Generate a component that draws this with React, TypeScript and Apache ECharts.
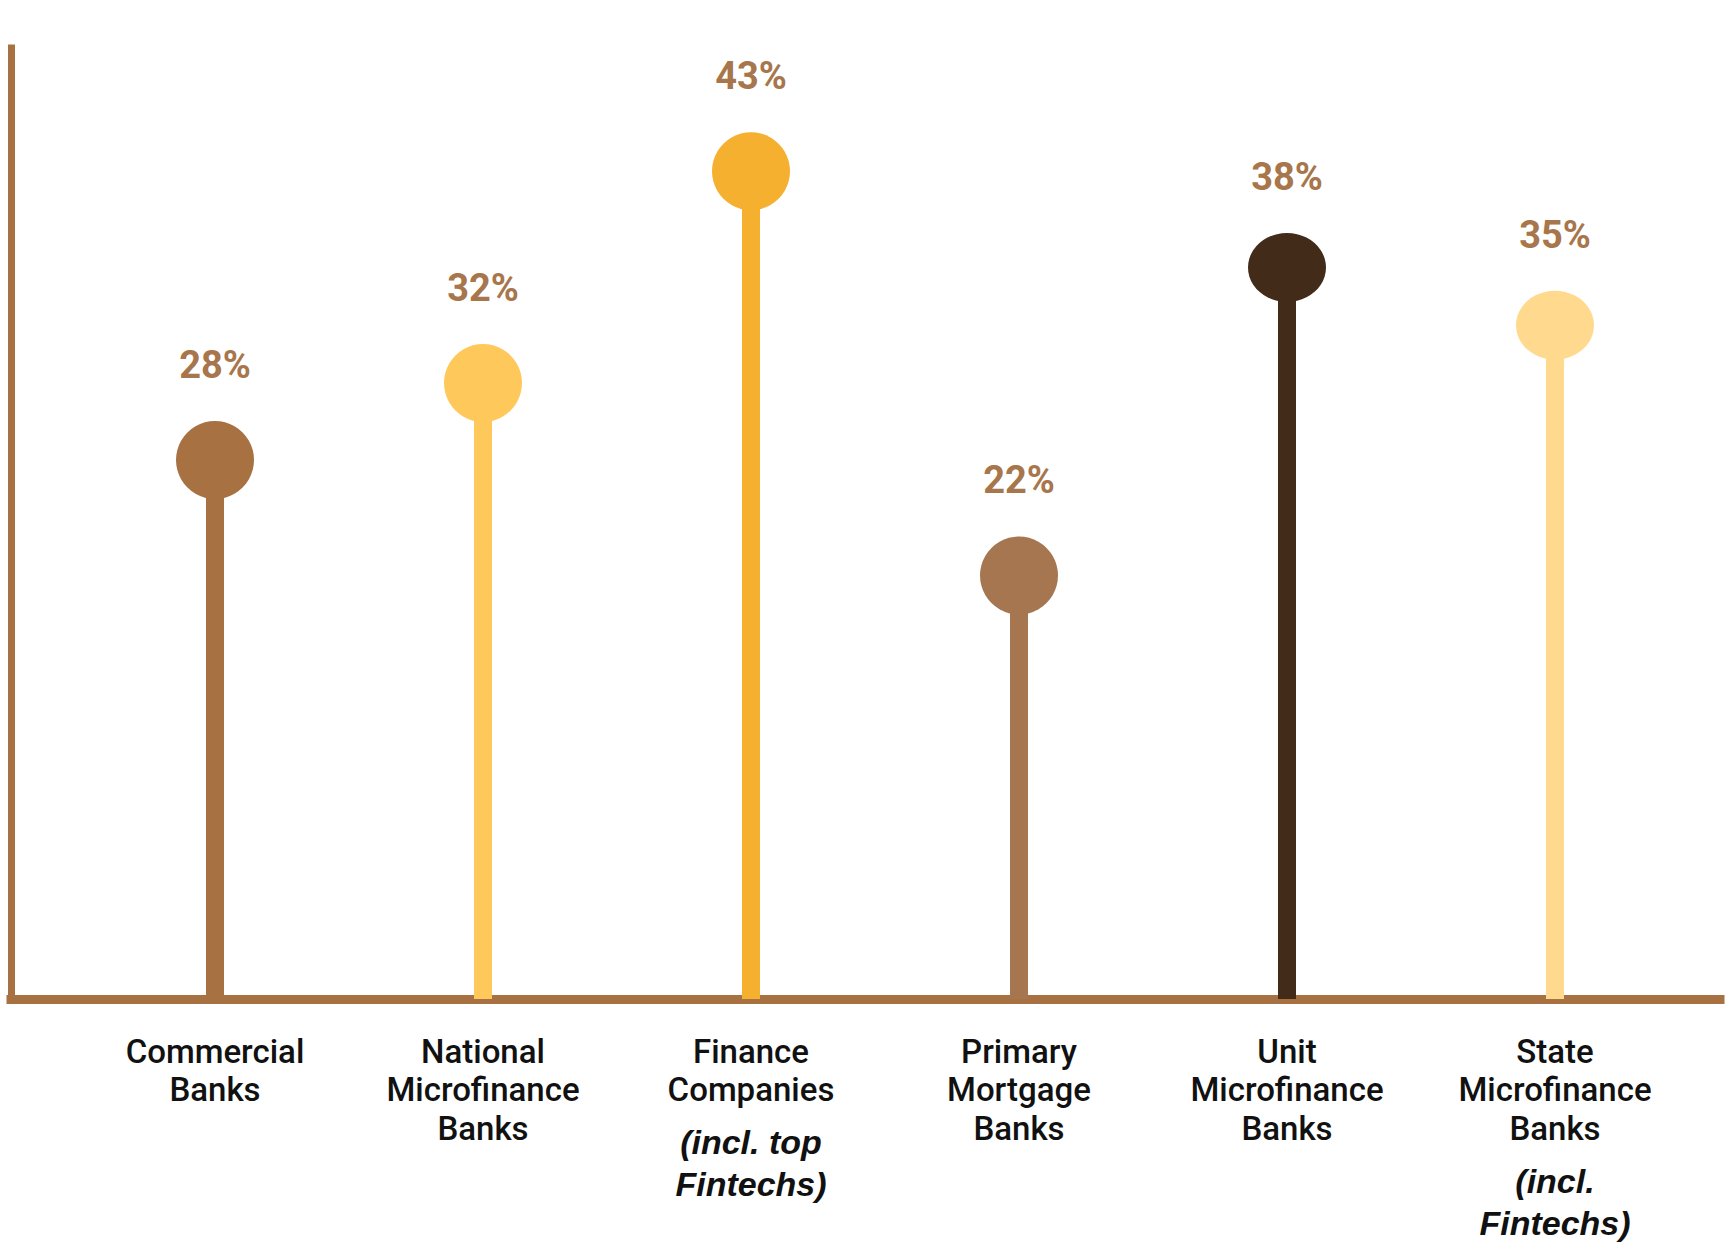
import React, { useEffect, useRef } from "react";
import * as echarts from "echarts";

const categories = [
  "Commercial\nBanks",
  "National\nMicrofinance\nBanks",
  "Finance\nCompanies",
  "Primary\nMortgage\nBanks",
  "Unit\nMicrofinance\nBanks",
  "State\nMicrofinance\nBanks",
];
const notes = ["", "", "(incl. top\nFintechs)", "", "", "(incl.\nFintechs)"];
const values = [28, 32, 43, 22, 38, 35];
const colors = ["#A87142", "#FFC85A", "#F5B030", "#A5764F", "#422C19", "#FFDA8E"];

const AXIS_COLOR = "#A87142";
const LABEL_COLOR = "#A7764C";
const markerSizes: any[] = [78, 78, 78, 78, [78, 69], [78, 69]];

export default function App() {
  const ref = useRef<HTMLDivElement>(null);

  useEffect(() => {
    document.body.style.margin = "0";
    const chart = echarts.init(ref.current!, null, { renderer: "svg" });
    const option: any = {
      animation: false,
      backgroundColor: "#ffffff",
      grid: [
        { left: 11, right: 7, top: 48, bottom: 248 },
        { left: 81, right: 38, top: 48, bottom: 248 },
      ],
      xAxis: [
        {
          type: "value",
          gridIndex: 0,
          min: 0,
          max: 1,
          axisLine: { show: true, lineStyle: { color: AXIS_COLOR, width: 9, cap: "square" } },
          axisTick: { show: false },
          axisLabel: { show: false },
          splitLine: { show: false },
        },
        {
          type: "category",
          gridIndex: 1,
          data: categories,
          axisLine: { show: false },
          axisTick: { show: false },
          splitLine: { show: false },
          axisLabel: {
            interval: 0,
            margin: 33,
            formatter: (value: string, index: number) => {
              let s = value
                .split("\n")
                .map((l) => `{n|${l}}`)
                .join("\n");
              if (notes[index]) {
                s +=
                  "\n{sp| }\n" +
                  notes[index]
                    .split("\n")
                    .map((l) => `{i|${l}}`)
                    .join("\n");
              }
              return s;
            },
            rich: {
              n: {
                fontFamily: "Roboto",
                fontSize: 33,
                fontWeight: 500,
                color: "#111111",
                lineHeight: 38.5,
                align: "center",
              },
              sp: { fontSize: 8, lineHeight: 12 },
              i: {
                fontFamily: "Liberation Sans",
                fontSize: 34,
                fontWeight: "bold",
                fontStyle: "italic",
                color: "#111111",
                lineHeight: 42,
                align: "center",
              },
            },
          },
        },
      ],
      yAxis: [
        {
          type: "value",
          gridIndex: 0,
          min: 0,
          max: 1,
          axisLine: { show: true, lineStyle: { color: AXIS_COLOR, width: 7, cap: "square" } },
          axisTick: { show: false },
          axisLabel: { show: false },
          splitLine: { show: false },
        },
        {
          type: "value",
          gridIndex: 1,
          min: 0,
          max: 49.4,
          show: false,
          splitLine: { show: false },
        },
      ],
      series: [
        {
          type: "bar",
          xAxisIndex: 1,
          yAxisIndex: 1,
          barWidth: 18,
          z: 2,
          data: values.map((v, i) => ({ value: v, itemStyle: { color: colors[i] } })),
        },
        {
          type: "scatter",
          xAxisIndex: 1,
          yAxisIndex: 1,
          z: 3,
          itemStyle: { opacity: 1 },
          data: values.map((v, i) => ({
            value: v,
            symbolSize: markerSizes[i],
            itemStyle: { color: colors[i], opacity: 1 },
          })),
          label: {
            show: true,
            position: "top",
            distance: 37,
            formatter: "{c}%",
            color: LABEL_COLOR,
            fontFamily: "Roboto",
            fontSize: 38,
            fontWeight: "bold",
            opacity: 1,
          },
        },
      ],
    };
    chart.setOption(option);
    return () => chart.dispose();
  }, []);

  return (
    <div
      ref={ref}
      style={{ position: "absolute", left: 0, top: 0, width: 1727, height: 1247 }}
    />
  );
}
